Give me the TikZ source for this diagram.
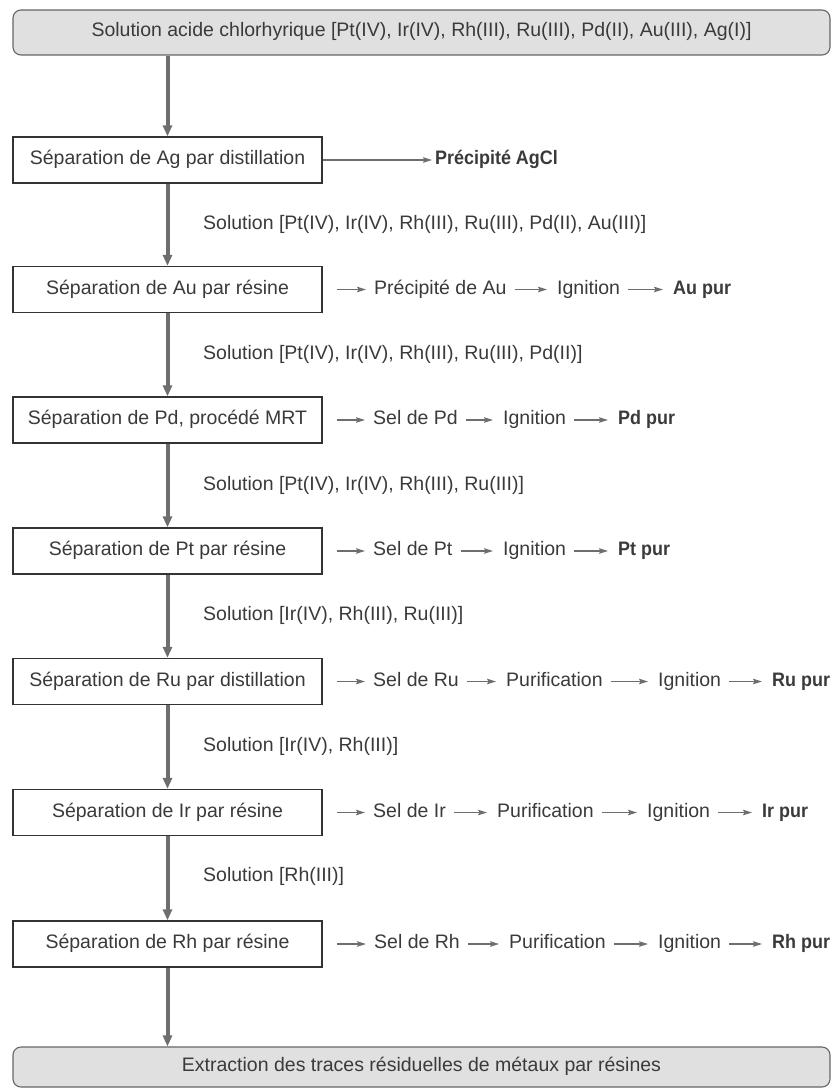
\documentclass[tikz,border=0pt]{standalone}
\usepackage{fontspec}
\setmainfont{Liberation Sans}
\usetikzlibrary{arrows.meta,calc}
\definecolor{txt}{HTML}{3A3A3A}
\definecolor{boxline}{HTML}{333333}
\definecolor{arr}{HTML}{6E6E6E}
\definecolor{roundfill}{HTML}{E0E0E0}
\begin{document}
\begin{tikzpicture}[x=1pt,y=-1pt,
  every node/.style={text=txt,font=\fontsize{19.5}{23}\selectfont,text height=14pt,text depth=5pt},
  endbox/.style={draw=black!60,line width=1.1pt,fill=roundfill,rounded corners=8pt,minimum width=817pt,minimum height=45pt,inner sep=0pt},
  stepbox/.style={draw=boxline,line width=1.3pt,fill=white,minimum width=309pt,minimum height=46pt,inner sep=0pt},
  lbl/.style={anchor=west,inner sep=0pt},
  prod/.style={anchor=west,inner sep=0pt,font=\fontsize{19.5}{23}\selectfont\bfseries\addfontfeature{FakeStretch=0.92}},
  flow/.style={draw=arr,line width=4pt,-{Triangle[width=9pt,length=11pt]}},
  side/.style={draw=arr,line width=1.3pt,-{Stealth[length=9pt,width=5.5pt,inset=1.5pt]}},
]
\useasboundingbox (0,0) rectangle (833,1089);
% end boxes
\node[endbox] (top) at (421.5,32.5) {Solution acide chlorhyrique [Pt(IV), Ir(IV), Rh(III), Ru(III), Pd(II), Au(III), Ag(I)]};
\node[endbox,minimum height=40pt] (bot) at (421.5,1067) {Extraction des traces résiduelles de métaux par résines};
% step boxes
\node[stepbox] (ag) at (167.5,160) {Séparation de Ag par distillation};
\node[stepbox] (au) at (167.5,289.5) {Séparation de Au par résine};
\node[stepbox] (pd) at (167.5,420) {Séparation de Pd, procédé MRT};
\node[stepbox] (pt) at (167.5,551) {Séparation de Pt par résine};
\node[stepbox] (ru) at (167.5,681.5) {Séparation de Ru par distillation};
\node[stepbox] (ir) at (167.5,812.5) {Séparation de Ir par résine};
\node[stepbox] (rh) at (167.5,944) {Séparation de Rh par résine};
% solution labels
\node[lbl] (s1) at (203,225) {Solution [Pt(IV), Ir(IV), Rh(III), Ru(III), Pd(II), Au(III)]};
\node[lbl] (s2) at (203,355) {Solution [Pt(IV), Ir(IV), Rh(III), Ru(III), Pd(II)]};
\node[lbl] (s3) at (203,486) {Solution [Pt(IV), Ir(IV), Rh(III), Ru(III)]};
\node[lbl] (s4) at (203,616) {Solution [Ir(IV), Rh(III), Ru(III)]};
\node[lbl] (s5) at (203,747) {Solution [Ir(IV), Rh(III)]};
\node[lbl] (s6) at (203,877) {Solution [Rh(III)]};
% vertical flow
\draw[flow] (ag.north |- top.south) -- (ag.north);
\draw[flow] (ag.south) -- (au.north);
\draw[flow] (au.south) -- (pd.north);
\draw[flow] (pd.south) -- (pt.north);
\draw[flow] (pt.south) -- (ru.north);
\draw[flow] (ru.south) -- (ir.north);
\draw[flow] (ir.south) -- (rh.north);
\draw[flow] (rh.south) -- (rh.south |- bot.north);
% Ag row
\node[prod] (agcl) at (435,160) {Précipité AgCl};
\draw[side,shorten >=3pt] (ag.east) -- (agcl.west);
% Au row
\node[lbl] (au1) at (374,289.5) {Précipité de Au};
\node[lbl] (au2) at (557,289.5) {Ignition};
\node[prod] (au3) at (673,289.5) {Au pur};
% Pd row
\node[lbl] (pd1) at (373,420) {Sel de Pd};
\node[lbl] (pd2) at (503,420) {Ignition};
\node[prod] (pd3) at (618,420) {Pd pur};
% Pt row
\node[lbl] (pt1) at (373,551) {Sel de Pt};
\node[lbl] (pt2) at (503,551) {Ignition};
\node[prod] (pt3) at (618,551) {Pt pur};
% Ru row
\node[lbl] (ru1) at (373,681.5) {Sel de Ru};
\node[lbl] (ru2) at (506,681.5) {Purification};
\node[lbl] (ru3) at (658,681.5) {Ignition};
\node[prod] (ru4) at (772,681.5) {Ru pur};
% Ir row
\node[lbl] (ir1) at (373,812.5) {Sel de Ir};
\node[lbl] (ir2) at (497,812.5) {Purification};
\node[lbl] (ir3) at (647,812.5) {Ignition};
\node[prod] (ir4) at (762,812.5) {Ir pur};
% Rh row
\node[lbl] (rh1) at (374,944) {Sel de Rh};
\node[lbl] (rh2) at (509,944) {Purification};
\node[lbl] (rh3) at (658,944) {Ignition};
\node[prod] (rh4) at (772,944) {Rh pur};
% side arrows
\foreach \b/\t in {au/au1,pd/pd1,pt/pt1,ru/ru1,ir/ir1,rh/rh1}
  \draw[side,shorten <=14pt,shorten >=8pt] (\b.east) -- (\t.west);
\foreach \a/\c in {au1/au2,au2/au3,pd1/pd2,pd2/pd3,pt1/pt2,pt2/pt3,ru1/ru2,ru2/ru3,ru3/ru4,ir1/ir2,ir2/ir3,ir3/ir4,rh1/rh2,rh2/rh3,rh3/rh4}
  \draw[side,shorten <=8pt,shorten >=10pt] (\a.east) -- (\c.west);
\end{tikzpicture}
\end{document}
